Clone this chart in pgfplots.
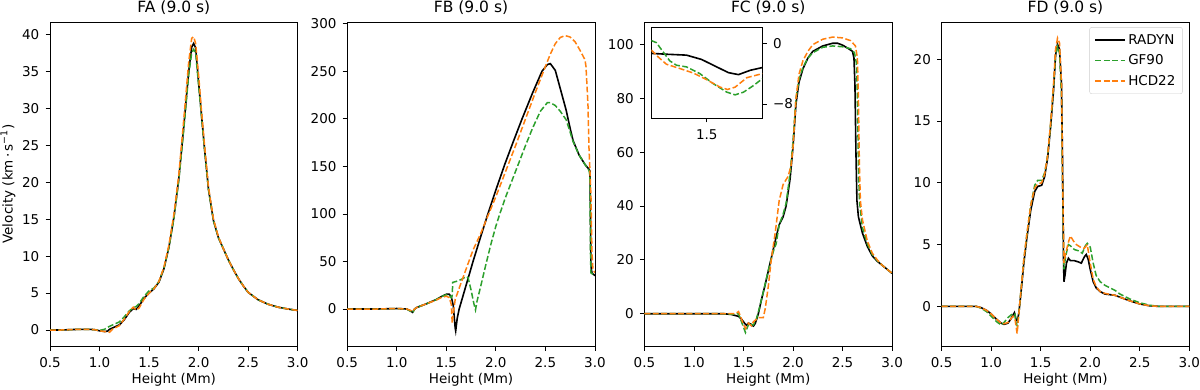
\documentclass[border=0pt]{standalone}
\usepackage{fontspec}
\setmainfont{DejaVu Sans}
\usepackage{pgfplots}
\pgfplotsset{compat=1.18}
\definecolor{mplgreen}{HTML}{2CA02C}
\definecolor{mplorange}{HTML}{FF7F0E}
\pgfplotsset{
  panel/.style={
    scale only axis, width=247.7pt, height=324pt, anchor=south west,
    xmin=0.5, xmax=3.0,
    xtick={0.5,1.0,1.5,2.0,2.5,3.0}, xticklabels={0.5,1.0,1.5,2.0,2.5,3.0},
    tick pos=left, tick align=outside, major tick length=4.5pt,
    xlabel={Height (Mm)},
    /pgf/number format/assume math mode=true,
    tick label style={font=\fontsize{13.5}{15}\selectfont},
    xticklabel style={inner sep=0pt, anchor=north, yshift=-6.5pt},
    yticklabel style={inner sep=0pt, anchor=east, xshift=-6pt},
    label style={font=\fontsize{13.5}{15}\selectfont},
    xlabel style={at={(axis description cs:0.5,0)}, anchor=base, inner sep=0pt, yshift=-37pt},
    ylabel style={at={(axis description cs:0,0.5)}, anchor=center, inner sep=0pt, rotate=0, yshift=42pt},
    title style={font=\fontsize{15.5}{17}\selectfont, at={(0.5,1)}, anchor=south, inner sep=0pt, yshift=1pt},
    axis line style={line width=0.8pt},
    every tick/.style={black, line width=0.8pt},
    legend image code/.code={\draw[##1] (0pt,0pt) -- (30pt,0pt);},
  },
  rad/.style={black, line width=1.6pt},
  gf/.style={mplgreen, line width=1.5pt, dash pattern=on 5.9pt off 2.5pt},
  hcd/.style={mplorange, line width=1.5pt, dash pattern=on 5.9pt off 2.5pt},
}
\begin{document}
\begin{tikzpicture}
\useasboundingbox (0pt,0pt) rectangle (1200pt,389pt);
% ---------------- FA
\begin{axis}[panel, at={(50pt,43pt)}, ymin=-2.16, ymax=41.7, ytick={0,5,...,40},
  title={FA (9.0 s)}, ylabel={Velocity (km\,·\,s\textsuperscript{−1})}]
\addplot[rad] coordinates {(0.5,0)(0.6,0)(0.7,0.05)(0.8,0.1)(0.9,0.1)(0.95,0.05)(1.0,-0.1)(1.05,-0.2)(1.08,-0.15)(1.1,0.1)(1.15,0.4)(1.2,0.7)(1.25,1.4)(1.3,2.4)(1.34,2.9)(1.37,2.8)(1.4,3.3)(1.45,4.3)(1.5,5.0)(1.55,5.6)(1.6,6.5)(1.65,8.3)(1.7,11.2)(1.75,15.2)(1.8,20.5)(1.85,27.5)(1.9,35)(1.93,38.3)(1.95,38.8)(1.97,38.2)(2.0,33.5)(2.03,29)(2.06,24.5)(2.1,19)(2.15,14.8)(2.2,12.5)(2.25,11)(2.3,9.5)(2.35,8.2)(2.4,7.0)(2.45,6.0)(2.5,5.1)(2.6,4.1)(2.7,3.5)(2.8,3.1)(2.9,2.85)(3.0,2.65)};
\addplot[gf] coordinates {(0.5,0)(0.6,0)(0.7,0.05)(0.8,0.1)(0.9,0.1)(0.95,0.05)(1.0,-0.05)(1.05,0.1)(1.1,0.5)(1.15,0.8)(1.2,1.1)(1.25,1.8)(1.3,2.6)(1.34,3.0)(1.37,3.2)(1.4,3.6)(1.45,4.6)(1.5,5.3)(1.55,5.7)(1.6,6.6)(1.65,8.4)(1.7,11.2)(1.75,15.1)(1.8,20.3)(1.85,27.2)(1.9,34.6)(1.93,37.5)(1.95,38.0)(1.97,37.5)(2.0,33.2)(2.03,28.8)(2.06,24.4)(2.1,19)(2.15,14.8)(2.2,12.5)(2.25,11)(2.3,9.5)(2.35,8.2)(2.4,7.0)(2.45,6.0)(2.5,5.1)(2.6,4.1)(2.7,3.5)(2.8,3.1)(2.9,2.85)(3.0,2.65)};
\addplot[hcd] coordinates {(0.5,0)(0.6,0)(0.7,0.05)(0.8,0.1)(0.9,0.1)(0.95,0.05)(1.0,-0.1)(1.05,-0.2)(1.1,-0.3)(1.13,0.1)(1.2,0.6)(1.25,1.5)(1.3,2.5)(1.34,3.1)(1.37,2.7)(1.4,3.0)(1.45,4.2)(1.5,5.0)(1.55,5.6)(1.6,6.6)(1.65,8.5)(1.7,11.5)(1.75,15.6)(1.8,21)(1.85,28.5)(1.9,36.3)(1.93,39.5)(1.95,39.7)(1.97,38.8)(2.0,34.5)(2.03,29.5)(2.06,25)(2.1,19.3)(2.15,15)(2.2,12.6)(2.25,11)(2.3,9.5)(2.35,8.2)(2.4,7.0)(2.45,6.0)(2.5,5.1)(2.6,4.1)(2.7,3.5)(2.8,3.1)(2.9,2.85)(3.0,2.65)};
\end{axis}
% ---------------- FB
\begin{axis}[panel, at={(347.2pt,43pt)}, ymin=-38.9, ymax=301.8, ytick={0,50,...,300},
  title={FB (9.0 s)}]
\addplot[rad] coordinates {(0.5,0)(0.8,0)(1.0,0.5)(1.1,0)(1.14,-2)(1.16,-3.5)(1.18,0)(1.2,1.5)(1.3,5.5)(1.4,10)(1.45,13)(1.5,15.5)(1.53,15.5)(1.55,13)(1.57,4)(1.58,-8)(1.59,-20)(1.595,-23)(1.61,-10)(1.63,0)(1.7,25)(1.77,50)(1.85,77)(1.92,100)(2.0,125)(2.09,152)(2.18,177)(2.265,200)(2.37,227)(2.466,250)(2.52,257)(2.55,258)(2.6,251)(2.65,232)(2.71,209)(2.75,190)(2.78,177)(2.84,162)(2.9,152)(2.94,147)(2.95,145)(2.955,100)(2.96,45)(2.97,38)(3.0,35)};
\addplot[gf] coordinates {(0.5,0)(0.8,0)(1.0,0.5)(1.1,0)(1.14,-2.5)(1.16,-4)(1.18,0)(1.2,1.5)(1.3,5.5)(1.4,10)(1.45,13)(1.5,15)(1.53,14.5)(1.55,12)(1.56,14)(1.565,28)(1.6,29)(1.65,31)(1.7,34)(1.72,33)(1.75,20)(1.78,5)(1.795,-1)(1.81,8)(1.85,25)(1.9,47)(1.95,68)(2.0,87)(2.04,100)(2.1,118)(2.2,145)(2.3,172)(2.37,190)(2.45,208)(2.52,217)(2.55,217)(2.6,214)(2.65,208)(2.71,199)(2.75,186)(2.78,176)(2.84,162)(2.9,152)(2.94,146)(2.95,140)(2.955,60)(2.96,38)(3.0,35)};
\addplot[hcd] coordinates {(0.5,0)(0.8,0)(1.0,0.5)(1.1,0)(1.14,-1.5)(1.16,-2.5)(1.18,0)(1.2,1.5)(1.3,5.5)(1.4,9.5)(1.45,12)(1.5,13.5)(1.53,12)(1.55,5)(1.56,-15)(1.57,-5)(1.59,10)(1.634,23)(1.7,42)(1.77,62)(1.85,80)(1.92,98)(2.0,118)(2.1,145)(2.2,172)(2.3,200)(2.4,228)(2.5,255)(2.55,268)(2.6,279)(2.65,285.5)(2.7,287.5)(2.75,286)(2.8,281)(2.85,272)(2.9,262)(2.91,255)(2.93,215)(2.94,170)(2.96,120)(2.97,60)(2.98,42)(3.0,38)};
\end{axis}
% ---------------- FC
\begin{axis}[panel, at={(644.4pt,43pt)}, ymin=-12, ymax=108.4, ytick={0,20,...,100},
  title={FC (9.0 s)}]
\addplot[rad] coordinates {(0.5,0)(1.3,0)(1.38,-0.3)(1.45,-1)(1.48,-2)(1.51,-3.5)(1.53,-4.3)(1.55,-3.5)(1.57,-3.8)(1.6,-4.6)(1.62,-3.5)(1.65,0)(1.68,5)(1.72,11)(1.77,19)(1.82,27)(1.86,33)(1.9,36)(1.93,40)(1.97,50)(2.0,62)(2.03,78)(2.06,86)(2.1,91)(2.15,95)(2.2,97.5)(2.3,99.5)(2.4,100.5)(2.45,100.5)(2.5,99.8)(2.56,98.5)(2.6,97.5)(2.615,95)(2.625,85)(2.635,60)(2.645,42)(2.66,36)(2.7,30)(2.75,25)(2.8,21.5)(2.85,19.5)(2.9,18)(2.95,16.5)(3.0,15)};
\addplot[gf] coordinates {(0.5,0)(1.3,0)(1.4,-0.2)(1.45,0)(1.48,-3)(1.51,-6)(1.52,-7)(1.54,-5)(1.56,-3.5)(1.58,-4)(1.6,-4.2)(1.63,-2)(1.66,2)(1.7,8)(1.75,16)(1.8,23)(1.83,26)(1.86,33)(1.9,37)(1.93,41)(1.97,52)(2.0,64)(2.03,80)(2.06,87)(2.1,91.5)(2.15,95)(2.2,97)(2.3,99)(2.4,99.5)(2.5,99.2)(2.58,98.5)(2.62,97)(2.64,93)(2.65,80)(2.66,55)(2.67,42)(2.7,32)(2.75,26)(2.8,22)(2.85,19.7)(2.9,18)(2.95,16.5)(3.0,15)};
\addplot[hcd] coordinates {(0.5,0)(1.3,0)(1.4,0)(1.43,0.3)(1.45,0.8)(1.47,-1)(1.5,-4)(1.52,-5.5)(1.55,-3.5)(1.58,-4.5)(1.6,-3)(1.65,-1.5)(1.7,-1.5)(1.72,2)(1.75,10)(1.78,20)(1.82,30)(1.86,42)(1.9,48)(1.95,51)(1.98,55)(2.0,62)(2.03,80)(2.06,89)(2.1,94)(2.15,97.5)(2.2,100)(2.3,102)(2.4,102.8)(2.5,102.5)(2.58,101.5)(2.63,99.5)(2.65,95)(2.66,80)(2.67,55)(2.68,42)(2.7,35)(2.75,27)(2.8,22.5)(2.85,20)(2.9,18)(2.95,16.5)(3.0,15)};
\end{axis}
% ---------------- FC inset
\begin{axis}[scale only axis, width=111pt, height=91pt, at={(651.3pt,271pt)}, anchor=south west,
  xmin=1.4, xmax=1.6, ymin=-9.85, ymax=2.15,
  xtick={1.5}, xticklabels={1.5}, ytick={-8,0}, yticklabels={−8,0},
  xtick pos=left, ytick pos=right, yticklabel pos=right, tick align=outside, major tick length=4.5pt,
  tick label style={font=\fontsize{13.5}{15}\selectfont},
  xticklabel style={inner sep=0pt, anchor=north, yshift=-6.5pt},
  yticklabel style={inner sep=0pt, anchor=west, xshift=6pt},
  axis line style={line width=0.8pt}, every tick/.style={black, line width=0.8pt},
  axis background/.style={fill=white}]
\addplot[rad] coordinates {(1.4,-1.33)(1.43,-1.45)(1.4634,-1.56)(1.4906,-2.13)(1.5178,-3.11)(1.539,-3.87)(1.5571,-4.13)(1.5782,-3.56)(1.6,-3.2)};
\addplot[gf] coordinates {(1.4,0.36)(1.4091,0.09)(1.4211,-1.11)(1.4332,-2.31)(1.4453,-2.89)(1.4634,-3.11)(1.4876,-4.0)(1.5118,-5.33)(1.536,-6.44)(1.5511,-6.8)(1.5662,-6.44)(1.5843,-5.56)(1.6,-4.67)};
\addplot[hcd] coordinates {(1.4,-0.89)(1.4121,-1.78)(1.4272,-2.76)(1.4514,-3.33)(1.4755,-3.91)(1.4997,-4.8)(1.5239,-5.78)(1.5372,-6.09)(1.5511,-5.78)(1.5722,-4.53)(1.6,-4.0)};
\end{axis}
% ---------------- FD
\begin{axis}[panel, at={(941.6pt,43pt)}, ymin=-3.2, ymax=23.0, ytick={0,5,...,20},
  title={FD (9.0 s)},
  legend style={at={(0.973,0.984)}, anchor=north east, font=\fontsize{13.5}{15}\selectfont,
    draw=black!20, rounded corners=2pt, row sep=5pt, inner xsep=5pt, inner ysep=5pt},
  legend cell align=left]
\addplot[rad] coordinates {(0.5,0)(0.85,0)(0.9,-0.1)(0.95,-0.3)(1.0,-0.6)(1.05,-1.0)(1.1,-1.35)(1.13,-1.45)(1.17,-1.35)(1.2,-1.0)(1.22,-0.7)(1.235,-0.5)(1.25,-1.0)(1.265,-1.2)(1.28,-0.5)(1.3,1.0)(1.33,3.5)(1.36,5.5)(1.4,7.8)(1.44,9.3)(1.47,9.7)(1.51,9.8)(1.54,10.5)(1.57,12)(1.6,14.5)(1.63,17.5)(1.65,20.3)(1.67,21.2)(1.69,20.8)(1.71,18)(1.72,12)(1.73,4)(1.735,2.0)(1.745,2.5)(1.76,3.5)(1.78,3.9)(1.8,3.7)(1.84,3.7)(1.88,3.6)(1.91,3.5)(1.94,4.0)(1.96,4.2)(1.98,3.8)(2.0,3.0)(2.03,2.0)(2.06,1.5)(2.1,1.2)(2.15,1.0)(2.25,0.9)(2.3,0.75)(2.4,0.45)(2.5,0.2)(2.6,0.05)(2.7,0)(3.0,0)};
\addlegendentry{RADYN}
\addplot[gf] coordinates {(0.5,0)(0.85,0)(0.9,-0.15)(0.95,-0.4)(1.0,-0.8)(1.05,-1.2)(1.1,-1.5)(1.13,-1.3)(1.17,-0.9)(1.2,-0.7)(1.22,-0.6)(1.24,-0.6)(1.25,-1.3)(1.265,-1.6)(1.28,-0.5)(1.3,1.2)(1.33,3.8)(1.36,5.8)(1.4,8.2)(1.44,9.8)(1.47,10.2)(1.51,10.2)(1.54,10.8)(1.57,12.2)(1.6,14.7)(1.63,17.8)(1.65,20.3)(1.67,21.0)(1.69,20.5)(1.71,17)(1.72,10)(1.735,3.0)(1.75,4.0)(1.78,5.0)(1.8,4.9)(1.84,4.6)(1.88,4.5)(1.92,4.3)(1.95,4.9)(1.97,5.1)(2.0,4.8)(2.03,3.5)(2.06,2.5)(2.1,2.0)(2.15,1.7)(2.2,1.5)(2.25,1.3)(2.3,1.0)(2.4,0.6)(2.5,0.3)(2.6,0.1)(2.7,0)(3.0,0)};
\addlegendentry{GF90}
\addplot[hcd] coordinates {(0.5,0)(0.85,0)(0.9,-0.1)(0.95,-0.3)(1.0,-0.6)(1.05,-1.0)(1.1,-1.35)(1.13,-1.4)(1.17,-1.3)(1.2,-1.0)(1.22,-0.8)(1.24,-1.0)(1.255,-1.8)(1.262,-2.2)(1.275,-1.0)(1.3,1.2)(1.33,3.8)(1.36,5.8)(1.4,8.2)(1.44,9.6)(1.47,9.9)(1.51,10.0)(1.54,10.7)(1.57,12.2)(1.6,14.8)(1.63,18)(1.65,20.8)(1.67,21.7)(1.69,21.3)(1.71,18)(1.72,11)(1.735,3.5)(1.75,4.2)(1.78,5.2)(1.8,5.7)(1.83,5.3)(1.86,5.0)(1.9,4.8)(1.94,4.7)(1.97,5.0)(2.0,3.5)(2.03,2.2)(2.06,1.6)(2.1,1.2)(2.15,1.05)(2.25,0.9)(2.3,0.75)(2.4,0.45)(2.5,0.2)(2.6,0.05)(2.7,0)(3.0,0)};
\addlegendentry{HCD22}
\end{axis}
\end{tikzpicture}
\end{document}
